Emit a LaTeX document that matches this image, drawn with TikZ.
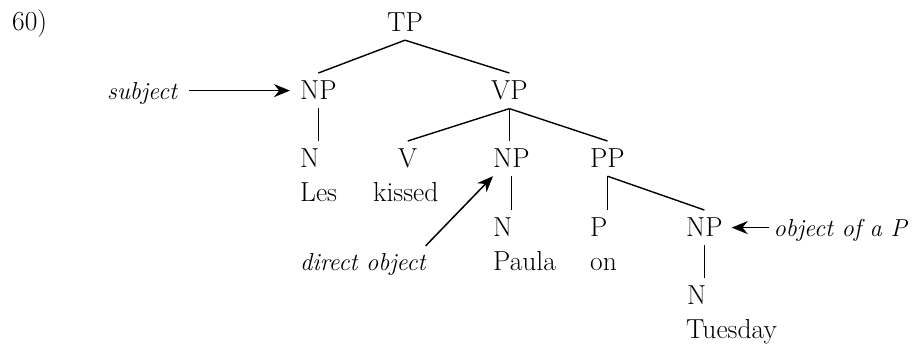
\documentclass[tikz,border=0pt]{standalone}
\usepackage{fontspec}
\usepackage{tikz}
\usetikzlibrary{arrows.meta}

\begin{document}
\begin{tikzpicture}[x=1pt, y=1pt,
    every node/.style={font=\fontsize{27.5}{32}\selectfont},
    cat/.style={anchor=base west, inner xsep=0pt, inner ysep=8pt},
    gloss/.style={inner xsep=0pt, inner ysep=8pt, font=\fontsize{24.5}{28}\selectfont\itshape},
    branch/.style={line width=1.4pt},
    pointer/.style={-{Stealth[length=16pt, width=13pt]}, line width=1.5pt}]
    \useasboundingbox (0,0) rectangle (912,350);

    % example number
    \node[cat] (num) at (12,319) {60)};

    % tree
    \node[cat] (tp)  at (387,318) {TP};
    \node[cat] (np1) at (300,250) {NP};
    \node[cat] (vp)  at (491,250) {VP};
    \node[cat] (n1)  at (300,182) {N};
    \node[cat] (les) at (300,148) {Les};
    \node[cat] (v)   at (398,182) {V};
    \node[cat] (kis) at (373,148) {kissed};
    \node[cat] (np2) at (493,182) {NP};
    \node[cat] (pp)  at (590,182) {PP};
    \node[cat] (n2)  at (493,113) {N};
    \node[cat] (pau) at (493,79)  {Paula};
    \node[cat] (p)   at (590,113) {P};
    \node[cat] (on)  at (590,79)  {on};
    \node[cat] (np3) at (686,113) {NP};
    \node[cat] (n3)  at (687,45)  {N};
    \node[cat] (tue) at (686,11)  {Tuesday};

    \draw[branch] (tp.south) -- (np1.north);
    \draw[branch] (tp.south) -- (vp.north);
    \draw[branch] (np1.south) -- (np1.south |- n1.north);
    \draw[branch] (vp.south) -- (v.north);
    \draw[branch] (vp.south) -- (vp.south |- np2.north);
    \draw[branch] (vp.south) -- (pp.north);
    \draw[branch] (np2.south) -- (np2.south |- n2.north);
    \draw[branch] (pp.south) -- (pp.south |- p.north);
    \draw[branch] (pp.south) -- (np3.north);
    \draw[branch] (np3.south) -- (np3.south |- n3.north);

    % grammatical functions
    \node[gloss, anchor=base west] (subj) at (107,250) {subject};
    \node[gloss, anchor=base west] (dobj) at (300,79)  {direct object};
    \node[gloss, anchor=base east] (objp) at (907,113) {object of a P};

    \draw[pointer, shorten <=12pt, shorten >=10pt] (np1.west -| subj.east) -- (np1.west);
    \draw[pointer] (dobj.north east) -- (np2.south west);
    \draw[pointer, shorten <=4pt, shorten >=9pt] (np3.east -| objp.west) -- (np3.east);
\end{tikzpicture}
\end{document}
